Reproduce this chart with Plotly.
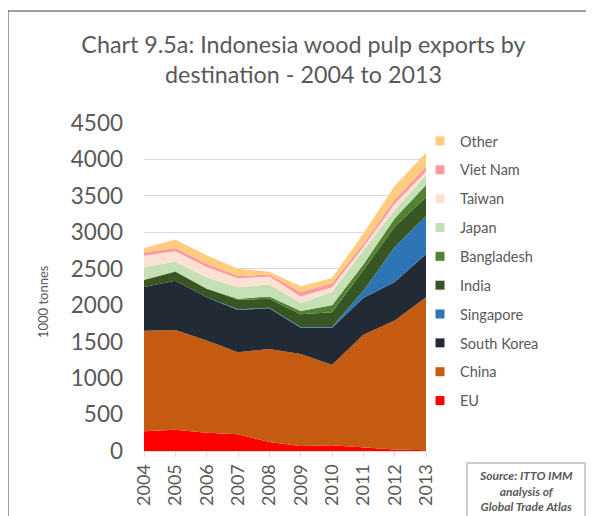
import plotly.graph_objects as go

years = [2004, 2005, 2006, 2007, 2008, 2009, 2010, 2011, 2012, 2013]

eu = [270, 290, 250, 230, 125, 70, 80, 50, 20, 10]
china = [1380, 1370, 1265, 1125, 1275, 1260, 1105, 1545, 1770, 2100]
south_korea = [600, 675, 595, 580, 560, 360, 505, 505, 530, 590]
singapore = [0, 0, 0, 10, 5, 10, 10, 100, 480, 520]
india = [95, 125, 115, 130, 125, 175, 205, 280, 275, 260]
bangladesh = [5, 5, 5, 15, 30, 45, 95, 80, 115, 170]
japan = [170, 135, 150, 155, 165, 110, 180, 195, 115, 135]
taiwan = [160, 140, 145, 125, 110, 90, 65, 45, 85, 50]
viet_nam = [45, 45, 45, 30, 25, 60, 55, 45, 60, 65]
other = [60, 115, 115, 100, 40, 80, 75, 140, 185, 195]

series = [
    ("EU", eu, "#FF0000"),
    ("China", china, "#C55A11"),
    ("South Korea", south_korea, "#222A35"),
    ("Singapore", singapore, "#2E75B6"),
    ("India", india, "#375623"),
    ("Bangladesh", bangladesh, "#548235"),
    ("Japan", japan, "#C5E0B4"),
    ("Taiwan", taiwan, "#FBE2D5"),
    ("Viet Nam", viet_nam, "#FF9B9B"),
    ("Other", other, "#FFCC80"),
]

fig = go.Figure()
for name, vals, col in series:
    fig.add_trace(go.Scatter(
        x=years, y=vals, name=name, stackgroup="one", mode="lines",
        line=dict(width=0, color=col), fillcolor=col, showlegend=False,
        hoverinfo="x+y+name",
    ))
for name, vals, col in reversed(series):
    fig.add_trace(go.Scatter(
        x=[None], y=[None], name=name, mode="markers", legendgroup=name,
        marker=dict(symbol="square", size=9, color=col),
        showlegend=True,
    ))

# page offset (body margin) compensation
OFF = 8
W, H = 594 - OFF, 516 - OFF
L, R, T, B = 144 - OFF, 426 - OFF, 123 - OFF, 451 - OFF
def px(x):
    return (x - OFF - L) / (R - L)
def py(y):
    return (B - (y - OFF)) / (B - T)

grey = "#595959"
fig.update_layout(
    width=W, height=H,
    margin=dict(l=L, r=W - R, t=T, b=H - B, autoexpand=False),
    paper_bgcolor="white", plot_bgcolor="white",
    font=dict(family="Lato", color=grey),
    title=dict(
        text="Chart 9.5a: Indonesia wood pulp exports by<br>destination - 2004 to 2013",
        x=(303.5 - OFF) / W, xref="container", xanchor="center", y=1 - 45 / H, yanchor="top",
        font=dict(size=23.3, color=grey, family="Lato"),
    ),
    xaxis=dict(
        range=[2004, 2013], tickmode="array", tickvals=years,
        ticktext=[str(y) for y in years], tickangle=-90,
        tickfont=dict(size=18, color=grey), showgrid=False,
        showline=True, linecolor="#D9D9D9", ticks="outside", ticklen=5,
        tickcolor="#D9D9D9", zeroline=False, fixedrange=True, automargin=False,
    ),
    yaxis=dict(
        range=[0, 4500], dtick=500, tickfont=dict(size=22.5, color=grey),
        showgrid=True, gridcolor="#D9D9D9", gridwidth=1, zeroline=False,
        ticks="", fixedrange=True, automargin=False, ticklabelstandoff=20,
    ),
    legend=dict(
        x=px(420), y=py(125), xanchor="left", yanchor="top",
        traceorder="grouped", tracegroupgap=7,
        font=dict(size=14.5, color=grey), bgcolor="rgba(0,0,0,0)",
        itemwidth=30,
    ),
    showlegend=True,
)

fig.add_annotation(
    xref="paper", yref="paper", x=px(43), y=py(302), xanchor="center", yanchor="middle",
    text="1000 tonnes", textangle=-90, showarrow=False,
    font=dict(size=13, color=grey, family="Lato"),
)
fig.add_shape(type="rect", xref="paper", yref="paper",
              x0=px(8), x1=px(589), y0=py(530), y1=py(11),
              line=dict(color="#404040", width=1), fillcolor="rgba(0,0,0,0)", layer="below")
fig.add_shape(type="rect", xref="paper", yref="paper",
              x0=px(467), x1=px(585), y0=py(530), y1=py(463),
              line=dict(color="#BFBFBF", width=1.5), fillcolor="rgba(0,0,0,0)")
fig.add_annotation(
    xref="paper", yref="paper", x=px(526), y=py(466), xanchor="center", yanchor="top",
    text="<b><i>Source: ITTO IMM<br>analysis of<br>Global Trade Atlas</i></b>",
    showarrow=False, align="center", font=dict(size=12, color=grey, family="Lato"),
)

fig.write_html("out.html")
